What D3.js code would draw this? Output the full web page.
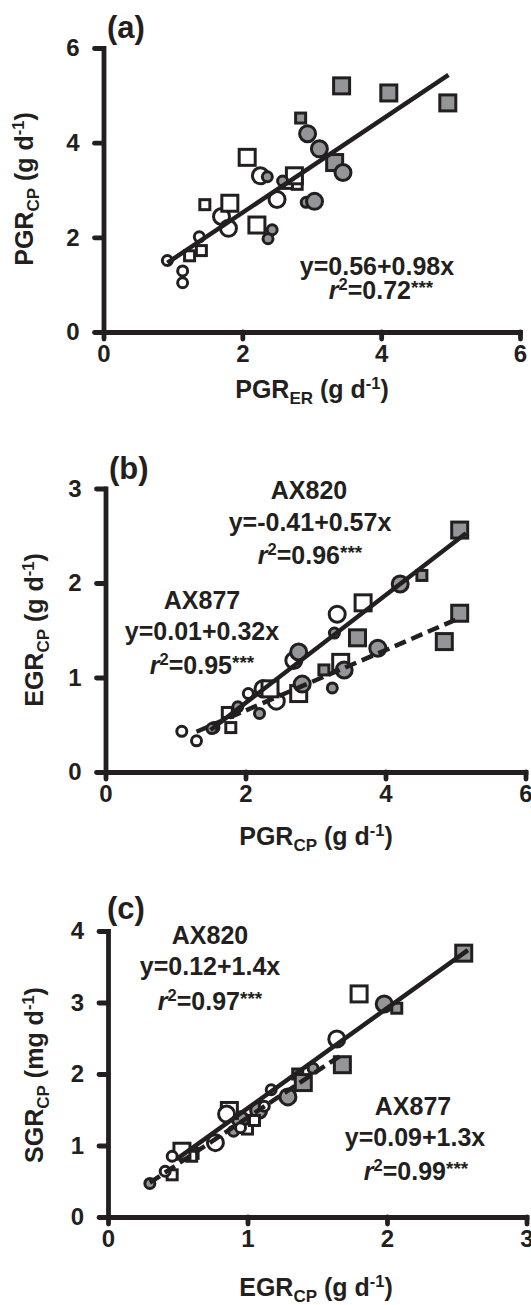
<!DOCTYPE html>
<html lang="en">
<head>
<meta charset="UTF-8">
<title>Growth rate relationships</title>
<style>
    body { margin: 0; background: #fff; }
    svg { display: block; font-family: 'Liberation Sans', Arial, sans-serif; font-weight: bold; }
    .axis .domain { stroke: #231f20; stroke-width: 4.8; stroke-linecap: square; }
    .axis .tick line { stroke: #231f20; stroke-width: 4.8; stroke-linecap: round; }
    .axis text { font-size: 24px; font-weight: bold; fill: #231f20; font-family: 'Liberation Sans', Arial, sans-serif; }
    .note { fill: #231f20; }
</style>
<script src="https://cdn.jsdelivr.net/npm/d3@7"></script>
</head>
<body>
<div id="chart"></div>
<script>
// (a) PGR_ER vs PGR_CP
const panelAPoints = [
    [0.92, 1.51, "openCircleSmall"], [1.14, 1.29, "openCircleSmall"], [1.14, 1.04, "openCircleSmall"],
    [1.38, 2.01, "openCircleSmall"],
    [1.70, 2.44, "openCircleLarge"], [1.80, 2.19, "openCircleLarge"], [2.26, 3.30, "openCircleLarge"],
    [2.50, 2.80, "openCircleLarge"],
    [1.24, 1.61, "openSquareSmall"], [1.41, 1.72, "openSquareSmall"], [1.46, 2.69, "openSquareSmall"],
    [2.79, 3.12, "openSquareSmall"], [2.65, 3.14, "openSquareSmall"],
    [1.82, 2.72, "openSquareLarge"], [2.07, 3.69, "openSquareLarge"], [2.21, 2.26, "openSquareLarge"],
    [2.75, 3.30, "openSquareLarge"],
    [2.84, 4.52, "graySquareSmall"],
    [3.33, 3.58, "graySquareLarge"], [3.43, 5.20, "graySquareLarge"], [4.11, 5.05, "graySquareLarge"],
    [4.96, 4.84, "graySquareLarge"],
    [2.36, 3.28, "grayCircleSmall"], [2.58, 3.19, "grayCircleSmall"], [2.43, 2.16, "grayCircleSmall"],
    [2.37, 1.97, "grayCircleSmall"], [2.92, 2.74, "grayCircleSmall"],
    [2.94, 4.19, "grayCircleLarge"], [3.11, 3.87, "grayCircleLarge"], [3.45, 3.37, "grayCircleLarge"],
    [3.04, 2.76, "grayCircleLarge"]
];
const panelAFits = [[0.56, 0.98, 0.92, 4.97, "solid"]];
const panelAXTicks = [0, 2, 4, 6];
const panelAYTicks = [0, 2, 4, 6];

// (b) PGR_CP vs EGR_CP
const panelBPoints = [
    [1.09, 0.43, "openCircleSmall"], [1.30, 0.33, "openCircleSmall"], [1.55, 0.47, "openCircleSmall"],
    [2.04, 0.83, "openCircleSmall"],
    [2.25, 0.88, "openCircleLarge"], [2.44, 0.75, "openCircleLarge"], [2.69, 1.18, "openCircleLarge"],
    [3.31, 1.67, "openCircleLarge"],
    [1.74, 0.63, "openSquareSmall"], [1.79, 0.47, "openSquareSmall"],
    [2.35, 0.88, "openSquareLarge"], [2.76, 0.83, "openSquareLarge"], [3.36, 1.16, "openSquareLarge"],
    [3.68, 1.79, "openSquareLarge"],
    [3.12, 1.08, "graySquareSmall"], [4.52, 2.08, "graySquareSmall"],
    [3.60, 1.42, "graySquareLarge"], [4.84, 1.38, "graySquareLarge"], [5.06, 1.68, "graySquareLarge"],
    [5.06, 2.56, "graySquareLarge"],
    [1.52, 0.46, "grayCircleSmall"], [1.89, 0.69, "grayCircleSmall"], [2.20, 0.62, "grayCircleSmall"],
    [3.24, 0.89, "grayCircleSmall"], [3.27, 1.47, "grayCircleSmall"],
    [2.76, 1.27, "grayCircleLarge"], [2.81, 0.93, "grayCircleLarge"], [3.41, 1.08, "grayCircleLarge"],
    [3.89, 1.31, "grayCircleLarge"], [4.21, 1.99, "grayCircleLarge"]
];
const panelBFits = [[-0.41, 0.57, 1.5, 5.15, "solid"], [0.01, 0.32, 1.3, 5.05, "dashed"]];
const panelBXTicks = [0, 2, 4, 6];
const panelBYTicks = [0, 1, 2, 3];

// (c) EGR_CP vs SGR_CP
const panelCPoints = [
    [0.61, 0.89, "graySquareSmall"], [1.36, 2.00, "graySquareSmall"], [2.07, 2.92, "graySquareSmall"],
    [1.40, 1.88, "graySquareLarge"], [1.68, 2.13, "graySquareLarge"], [2.55, 3.69, "graySquareLarge"],
    [0.30, 0.47, "grayCircleSmall"], [0.90, 1.20, "grayCircleSmall"], [1.47, 2.08, "grayCircleSmall"],
    [0.95, 1.36, "grayCircleLarge"], [1.08, 1.49, "grayCircleLarge"], [1.29, 1.68, "grayCircleLarge"],
    [1.98, 2.98, "grayCircleLarge"],
    [0.46, 0.59, "openSquareSmall"], [0.60, 0.85, "openSquareSmall"], [1.00, 1.23, "openSquareSmall"],
    [1.05, 1.35, "openSquareSmall"],
    [0.53, 0.92, "openSquareLarge"], [0.87, 1.49, "openSquareLarge"], [1.80, 3.12, "openSquareLarge"],
    [0.41, 0.64, "openCircleSmall"], [0.46, 0.85, "openCircleSmall"], [0.95, 1.25, "openCircleSmall"],
    [1.12, 1.55, "openCircleSmall"], [1.17, 1.78, "openCircleSmall"],
    [0.77, 1.04, "openCircleLarge"], [0.85, 1.44, "openCircleLarge"], [1.64, 2.49, "openCircleLarge"]
];
const panelCFits = [[0.12, 1.4, 0.5, 2.58, "solid"], [0.09, 1.3, 0.3, 1.66, "dashed"]];
const panelCXTicks = [0, 1, 2, 3];
const panelCYTicks = [0, 1, 2, 3, 4];

// axis titles: [text, kind]
const titleA_x = [["PGR"], ["ER", "sub"], [" (g d"], ["-1", "sup"], [")"]];
const titleA_y = [["PGR"], ["CP", "sub"], [" (g d"], ["-1", "sup"], [")"]];
const titleB_x = [["PGR"], ["CP", "sub"], [" (g d"], ["-1", "sup"], [")"]];
const titleB_y = [["EGR"], ["CP", "sub"], [" (g d"], ["-1", "sup"], [")"]];
const titleC_x = [["EGR"], ["CP", "sub"], [" (g d"], ["-1", "sup"], [")"]];
const titleC_y = [["SGR"], ["CP", "sub"], [" (mg d"], ["-1", "sup"], [")"]];

// regression annotations
const notesA = [
    [["y=0.56+0.98x"]],
    [["r", "it"], ["2", "sup"], ["=0.72"], ["***", "star"]]
];
const notesB = [
    [["AX820"]],
    [["y=-0.41+0.57x"]],
    [["r", "it"], ["2", "sup"], ["=0.96"], ["***", "star"]],
    [["AX877"]],
    [["y=0.01+0.32x"]],
    [["r", "it"], ["2", "sup"], ["=0.95"], ["***", "star"]]
];
const notesC = [
    [["AX820"]],
    [["y=0.12+1.4x"]],
    [["r", "it"], ["2", "sup"], ["=0.97"], ["***", "star"]],
    [["AX877"]],
    [["y=0.09+1.3x"]],
    [["r", "it"], ["2", "sup"], ["=0.99"], ["***", "star"]]
];

const ink = "#231f20";
const gray = "#939598";

const panels = [
    {
        label: "(a)", points: panelAPoints, fits: panelAFits,
        xDomain: [0, 6], yDomain: [0, 6], xTicks: panelAXTicks, yTicks: panelAYTicks,
        xRange: [103.5, 520], yRange: [332, 48],
        labelPos: [107, 38], xTitle: titleA_x, xTitlePos: [312, 398], yTitle: titleA_y, yTitlePos: [33, 189],
        notes: notesA, notePos: [[377, 275], [381, 299]]
    },
    {
        label: "(b)", points: panelBPoints, fits: panelBFits,
        xDomain: [0, 6], yDomain: [0, 3], xTicks: panelBXTicks, yTicks: panelBYTicks,
        xRange: [105.5, 525.5], yRange: [772, 488.5],
        labelPos: [109, 479], xTitle: titleB_x, xTitlePos: [316, 845], yTitle: titleB_y, yTitlePos: [43, 630],
        notes: notesB, notePos: [[309, 499], [310, 531], [310, 564], [202, 609], [202, 640], [202, 674]]
    },
    {
        label: "(c)", points: panelCPoints, fits: panelCFits,
        xDomain: [0, 3], yDomain: [0, 4], xTicks: panelCXTicks, yTicks: panelCYTicks,
        xRange: [108, 526.5], yRange: [1217, 931],
        labelPos: [107, 919], xTitle: titleC_x, xTitlePos: [316, 1296], yTitle: titleC_y, yTitlePos: [43, 1075],
        notes: notesC, notePos: [[210, 944], [210, 975], [210, 1010], [413, 1115], [415, 1146], [416, 1180]]
    }
];

const svg = d3.select("#chart").append("svg")
    .attr("width", 531)
    .attr("height", 1305);

function richText(g, x, y, parts, size, anchor) {
    const t = g.append("text")
        .attr("class", "note")
        .attr("x", x)
        .attr("y", y)
        .attr("text-anchor", anchor || "middle")
        .style("font-size", size + "px");
    let shift = 0;
    parts.forEach(p => {
        const kind = p[1];
        let target = 0, fs = size;
        if (kind === "sub") { target = 6; fs = size * 0.68; }
        if (kind === "sup") { target = -9; fs = size * 0.66; }
        if (kind === "star") { target = -5; fs = size * 0.76; }
        const s = t.append("tspan").text(p[0]).style("font-size", fs + "px");
        if (target !== shift) { s.attr("dy", target - shift); shift = target; }
        if (kind === "it") s.style("font-style", "italic");
    });
    return t;
}

function drawMarker(g, cx, cy, type) {
    const fill = type.startsWith("gray") ? gray : "#fff";
    const large = type.endsWith("Large");
    if (type.includes("Circle")) {
        g.append("circle")
            .attr("cx", cx).attr("cy", cy)
            .attr("r", large ? 8 : 5)
            .attr("fill", fill).attr("stroke", ink).attr("stroke-width", 3);
    } else {
        const side = large ? 16 : 10;
        g.append("rect")
            .attr("x", cx - side / 2).attr("y", cy - side / 2)
            .attr("width", side).attr("height", side)
            .attr("fill", fill).attr("stroke", ink).attr("stroke-width", 3);
    }
}

panels.forEach(p => {
    const g = svg.append("g");
    const x = d3.scaleLinear().domain(p.xDomain).range(p.xRange);
    const y = d3.scaleLinear().domain(p.yDomain).range(p.yRange);

    g.append("g")
        .attr("class", "axis")
        .attr("transform", `translate(0,${p.yRange[0]})`)
        .call(d3.axisBottom(x).tickValues(p.xTicks).tickFormat(d3.format("d"))
            .tickSize(7).tickSizeOuter(0).tickPadding(6));

    g.append("g")
        .attr("class", "axis")
        .attr("transform", `translate(${p.xRange[0]},0)`)
        .call(d3.axisLeft(y).tickValues(p.yTicks).tickFormat(d3.format("d"))
            .tickSize(9).tickSizeOuter(0).tickPadding(15));

    const pts = g.append("g");
    p.points.forEach(d => drawMarker(pts, x(d[0]), y(d[1]), d[2]));

    p.fits.forEach(f => {
        const [a, b, from, to, style] = f;
        g.append("line")
            .attr("x1", x(from)).attr("y1", y(a + b * from))
            .attr("x2", x(to)).attr("y2", y(a + b * to))
            .attr("stroke", ink)
            .attr("stroke-width", 4.5)
            .attr("stroke-dasharray", style === "dashed" ? "12,6" : null);
    });

    g.append("text")
        .attr("class", "note")
        .attr("x", p.labelPos[0]).attr("y", p.labelPos[1])
        .style("font-size", "31px")
        .text(p.label);

    richText(g, p.xTitlePos[0], p.xTitlePos[1], p.xTitle, 25);
    const yt = g.append("g")
        .attr("transform", `translate(${p.yTitlePos[0]},${p.yTitlePos[1]}) rotate(-90)`);
    richText(yt, 0, 0, p.yTitle, 25);

    p.notes.forEach((n, i) => richText(g, p.notePos[i][0], p.notePos[i][1], n, 25));
});
</script>
</body>
</html>
